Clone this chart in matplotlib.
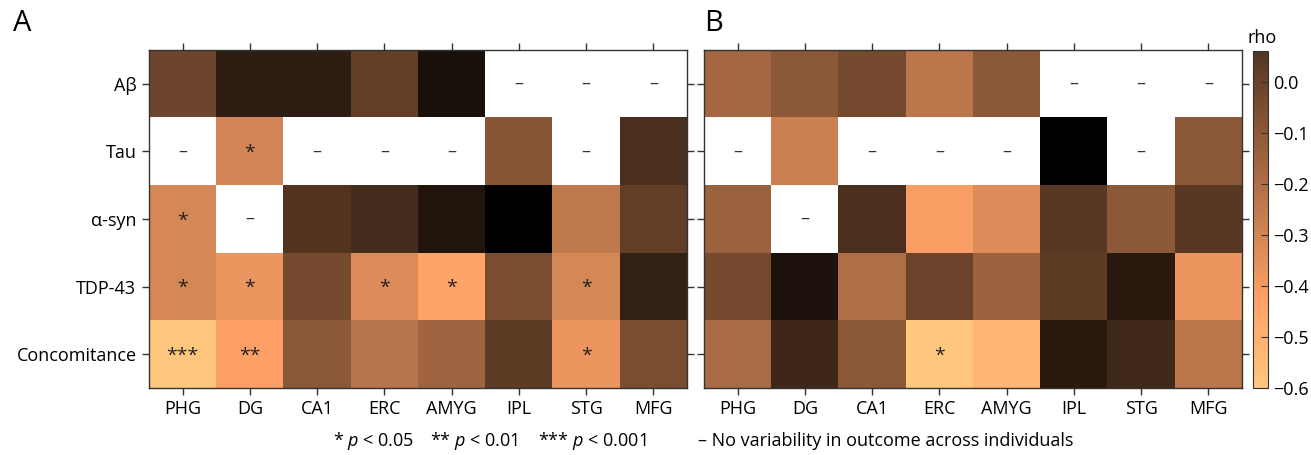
import numpy as np
import matplotlib
matplotlib.use("Agg")
import matplotlib.pyplot as plt

plt.rcParams['font.family'] = ['Open Sans', 'DejaVu Sans']
plt.rcParams['mathtext.fontset'] = 'custom'
plt.rcParams['mathtext.it'] = 'Open Sans:italic'
plt.rcParams['mathtext.rm'] = 'Open Sans'

regions = ["PHG", "DG", "CA1", "ERC", "AMYG", "IPL", "STG", "MFG"]
pathologies = ["Aβ", "Tau", "α-syn", "TDP-43", "Concomitance"]
nan = np.nan

rho_A = [
    [-0.016, 0.166, 0.166, 0.018, 0.226, nan, nan, nan],
    [nan, -0.304, nan, nan, nan, -0.089, nan, 0.085],
    [-0.311, nan, 0.065, 0.099, 0.206, 0.30, -0.251, 0.018],
    [-0.311, -0.378, -0.036, -0.331, -0.445, -0.049, -0.311, 0.152],
    [-0.60, -0.425, -0.103, -0.224, -0.157, 0.031, -0.378, -0.049],
]
sig_A = [
    ["", "", "", "", "", "", "", ""],
    ["", "*", "", "", "", "", "", ""],
    ["*", "", "", "", "", "", "", ""],
    ["*", "*", "", "*", "*", "", "*", ""],
    ["***", "**", "", "", "", "", "*", ""],
]
rho_B = [
    [-0.170, -0.103, -0.036, -0.237, -0.103, nan, nan, nan],
    [nan, -0.278, nan, nan, nan, 0.30, nan, -0.103],
    [-0.143, nan, 0.085, -0.410, -0.331, 0.045, -0.103, 0.045],
    [-0.036, 0.219, -0.197, -0.009, -0.143, 0.031, 0.179, -0.378],
    [-0.184, 0.119, -0.103, -0.60, -0.519, 0.179, 0.112, -0.237],
]
sig_B = [
    ["", "", "", "", "", "", "", ""],
    ["", "", "", "", "", "", "", ""],
    ["", "", "", "", "", "", "", ""],
    ["", "", "", "", "", "", "", ""],
    ["", "", "", "*", "", "", "", ""],
]
cbar_ticks = [0.0, -0.1, -0.2, -0.3, -0.4, -0.5, -0.6]
vmin, vmax = -0.6, 0.3
cbar_top = 0.06

legend_items = ["* $p$ < 0.05", "** $p$ < 0.01", "*** $p$ < 0.001",
                "– No variability in outcome across individuals"]
legend_x = [333, 430, 538, 698]

W, H = 1311, 455
fig = plt.figure(figsize=(W / 100, H / 100), dpi=100)

cmap = plt.get_cmap('copper_r').copy()
cmap.set_bad('white')

def px_axes(x0, y0, x1, y1):
    return fig.add_axes([x0 / W, 1 - y1 / H, (x1 - x0) / W, (y1 - y0) / H])

axA = px_axes(149, 50, 687, 388)
axB = px_axes(704, 50, 1242, 388)
cax = px_axes(1253, 51, 1268, 388)

fs = 13
edge = '#333333'
for ax, data, sig, show_y in [(axA, rho_A, sig_A, True), (axB, rho_B, sig_B, False)]:
    arr = np.ma.masked_invalid(np.array(data, dtype=float))
    im = ax.imshow(arr, cmap=cmap, vmin=vmin, vmax=vmax, aspect='auto',
                   interpolation='nearest')
    ax.set_xticks(range(len(regions)))
    ax.set_xticklabels(regions, fontsize=fs)
    ax.set_yticks(range(len(pathologies)))
    if show_y:
        ax.set_yticklabels(pathologies, fontsize=fs)
    else:
        ax.set_yticklabels([])
    ax.tick_params(top=True, right=True, labeltop=False, labelright=False,
                   direction='out', length=5, width=1, color=edge, pad=4)
    for s in ax.spines.values():
        s.set_color(edge)
        s.set_linewidth(1)
    for i in range(len(pathologies)):
        for j in range(len(regions)):
            v = data[i][j]
            if np.isnan(v):
                ax.text(j, i, "–", ha='center', va='center', fontsize=13,
                        color=edge)
            elif sig[i][j]:
                ax.text(j, i + 0.02, sig[i][j], ha='center', va='center',
                        fontsize=14, color='#222222')

cb = fig.colorbar(im, cax=cax, boundaries=np.linspace(vmin, cbar_top, 300))
cb.set_ticks(cbar_ticks)
cb.set_ticklabels([f"{t:.1f}".replace("-", "\u2212") for t in cbar_ticks])
cax.tick_params(labelsize=fs, length=5, direction='in', color=edge, pad=4)
cb.outline.set_edgecolor(edge)
fig.text(1262 / W, 1 - 38 / H, "rho", ha='center', va='center', fontsize=fs)

fig.text(13 / W, 1 - 23.5 / H, "A", ha='left', va='center', fontsize=21)
fig.text(704 / W, 1 - 23.5 / H, "B", ha='left', va='center', fontsize=21)

for txt, x in zip(legend_items, legend_x):
    fig.text(x / W, 1 - 441 / H, txt, ha='left', va='center', fontsize=fs)

fig.savefig("out.png", dpi=100)
